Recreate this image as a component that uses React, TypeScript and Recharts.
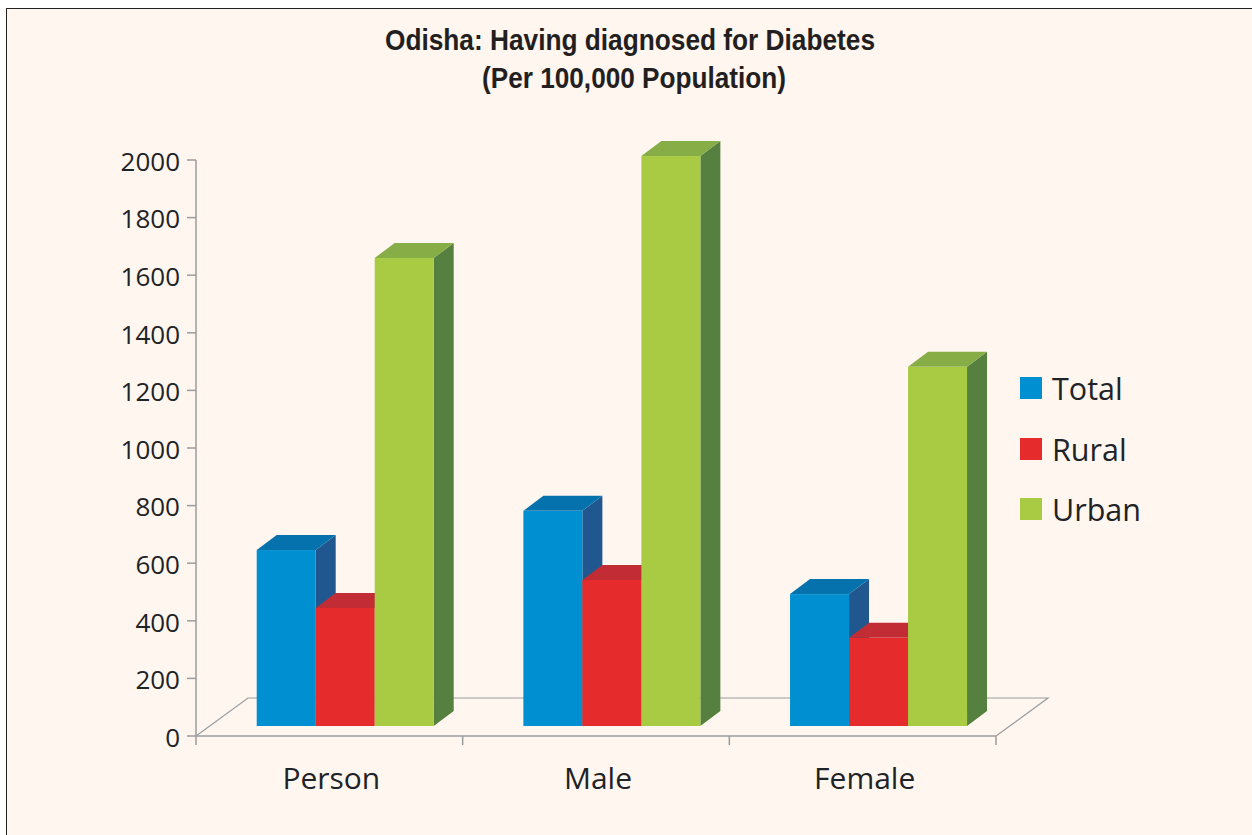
import { Bar, BarChart, Legend, XAxis, YAxis, usePlotArea } from 'recharts'

const categories = ['Person', 'Male', 'Female']
const totalValues = [611, 747, 458]
const ruralValues = [410, 507, 306]
const urbanValues = [1625, 1979, 1247]
const yTicks = [0, 200, 400, 600, 800, 1000, 1200, 1400, 1600, 1800, 2000]

const data = categories.map((name, i) => ({
  name,
  Total: totalValues[i],
  Rural: ruralValues[i],
  Urban: urbanValues[i],
}))

const AXIS = '#9a9d9e'
const TEXT = '#1d2327'
const LABEL_FONT = '"Open Sans", sans-serif'
const TITLE_FONT = '"Liberation Sans", Arial, sans-serif'

function Box3D({ x, y, width, height, fill, topFill, sideFill }: any) {
  // bars stand in the middle of the floor, so shift them off the front edge
  const left = x + 16.4
  const right = left + width
  const top = y - 10
  const base = top + height
  const dx = 20
  const dy = 15
  return (
    <g>
      <polygon
        points={`${right},${top} ${right + dx},${top - dy} ${right + dx},${base - dy} ${right},${base}`}
        fill={sideFill}
      />
      <polygon
        points={`${left},${top} ${left + dx},${top - dy} ${right + dx},${top - dy} ${right},${top}`}
        fill={topFill}
      />
      <rect x={left} y={top} width={width} height={height} fill={fill} />
    </g>
  )
}

function Floor() {
  const plot = usePlotArea()
  if (!plot) return null
  const { x, y, width, height } = plot
  const bottom = y + height
  const band = width / categories.length
  const depthX = 52
  const depthY = 38
  return (
    <g>
      <polyline
        points={`${x},${bottom} ${x + depthX},${bottom - depthY} ${x + width + depthX},${bottom - depthY} ${x + width},${bottom}`}
        fill="none"
        stroke={AXIS}
        strokeWidth={1.2}
      />
      {[0, 1, 2, 3].map((i) => (
        <line
          key={i}
          x1={x + i * band}
          x2={x + i * band}
          y1={bottom}
          y2={bottom + 9}
          stroke={AXIS}
          strokeWidth={1.5}
        />
      ))}
    </g>
  )
}

function Title() {
  return (
    <g fontFamily={TITLE_FONT} fontWeight={700} fontSize={30} fill="#231f20">
      <text x={630} y={50} textAnchor="middle" textLength={490} lengthAdjust="spacingAndGlyphs">
        Odisha: Having diagnosed for Diabetes
      </text>
      <text x={634} y={88} textAnchor="middle" textLength={304} lengthAdjust="spacingAndGlyphs">
        (Per 100,000 Population)
      </text>
    </g>
  )
}

function LegendBox({ payload }: any) {
  return (
    <div style={{ fontFamily: LABEL_FONT, fontSize: 30.5, color: TEXT }}>
      {(payload ?? []).map((item: any) => (
        <div key={item.value} style={{ display: 'flex', alignItems: 'center', height: 60.5 }}>
          <span style={{ width: 22, height: 22, background: item.color, marginRight: 10 }} />
          {item.value}
        </div>
      ))}
    </div>
  )
}

export default function App() {
  return (
    <div style={{ position: 'absolute', left: 0, top: 0, width: 1252, height: 835, background: '#fff', overflow: 'hidden' }}>
      <div
        style={{
          position: 'absolute',
          left: 6,
          top: 8,
          right: 0,
          bottom: 0,
          background: '#fff6ef',
          borderLeft: '1.5px solid #222',
          borderTop: '1.5px solid #222',
        }}
      />
      <BarChart
        width={1252}
        height={835}
        data={data}
        margin={{ top: 160, right: 256, bottom: 0, left: 0 }}
        barCategoryGap={44.3}
        barGap={0}
        style={{ position: 'absolute', left: 0, top: 0 }}
      >
        <Floor />
        <Title />
        <XAxis
          dataKey="name"
          height={99}
          axisLine={{ stroke: AXIS, strokeWidth: 1.5 }}
          tickLine={false}
          tickMargin={26}
          dx={2}
          tick={{ fill: TEXT, fontSize: 30, fontFamily: LABEL_FONT }}
        />
        <YAxis
          width={196}
          domain={[0, 2000]}
          ticks={yTicks}
          interval={0}
          axisLine={{ stroke: AXIS, strokeWidth: 1.5 }}
          tickLine={{ stroke: AXIS, strokeWidth: 1.5 }}
          tickSize={9}
          tickMargin={7}
          dy={1.5}
          tick={{ fill: TEXT, fontSize: 26, fontFamily: LABEL_FONT }}
        />
        <Legend
          layout="vertical"
          align="center"
          verticalAlign="middle"
          itemSorter={null}
          content={<LegendBox />}
          wrapperStyle={{ left: 1020, top: 358, width: 200, bottom: 'auto' }}
        />
        <Bar
          dataKey="Total"
          fill="#008fd0"
          isAnimationActive={false}
          shape={(p: any) => <Box3D {...p} topFill="#0672ad" sideFill="#20578f" />}
        />
        <Bar
          dataKey="Rural"
          fill="#e62b2c"
          isAnimationActive={false}
          shape={(p: any) => <Box3D {...p} topFill="#c12c35" sideFill="#9c2a30" />}
        />
        <Bar
          dataKey="Urban"
          fill="#a9cb43"
          isAnimationActive={false}
          shape={(p: any) => <Box3D {...p} topFill="#87ad47" sideFill="#558040" />}
        />
      </BarChart>
    </div>
  )
}
